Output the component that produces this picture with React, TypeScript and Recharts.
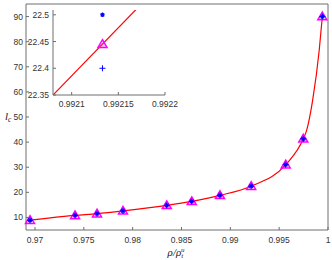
import React from 'react';
import { ComposedChart, Line, Scatter, XAxis, YAxis, Label } from 'recharts';

// density ratio rho / rho_t^u at each computed point
const rho = [0.96949, 0.9741, 0.97635, 0.97901, 0.98349, 0.98605, 0.98894, 0.992133, 0.99567, 0.99747, 0.99942];
// l_c for the three methods (blue *, magenta triangle, blue +)
const lcStar = [8.9, 10.8, 11.5, 12.6, 14.8, 16.4, 18.8, 22.5, 31.0, 41.3, 90.0];
const lcTri = [8.9, 10.8, 11.5, 12.6, 14.8, 16.4, 18.8, 22.445, 31.0, 41.3, 90.0];
const lcPlus = [8.9, 10.8, 11.5, 12.6, 14.8, 16.4, 18.8, 22.4, 31.0, 41.3, 90.0];

// red curve
const fitRho = [0.96949, 0.9741, 0.97635, 0.97901, 0.98349, 0.98605, 0.98894, 0.992133, 0.99567, 0.99747, 0.99782, 0.99843, 0.9991, 0.99942];
const fitLc = [8.9, 10.8, 11.5, 12.6, 14.8, 16.4, 18.8, 22.445, 31.0, 41.3, 44.8, 56.7, 76.6, 90.0];

// inset: red curve end points inside the zoom window
const insetFitRho = [0.99208, 0.992169];
const insetFitLc = [22.35, 22.51];

const xTicks = [0.97, 0.975, 0.98, 0.985, 0.99, 0.995, 1];
const yTicks = [10, 20, 30, 40, 50, 60, 70, 80, 90];
const insetXTicks = [0.9921, 0.99215, 0.9922];
const insetYTicks = [22.35, 22.4, 22.45, 22.5];

const AXIS = '#6e6e6e';
const TEXT = '#333';
const FONT = '"Liberation Sans", Arial, sans-serif';
const TICK_LEN = 3;

const zip = (xs: number[], ys: number[]) => xs.map((x, i) => ({ x, y: ys[i] }));

const starData = zip(rho, lcStar);
const triData = zip(rho, lcTri);
const plusData = zip(rho, lcPlus);
const fitData = zip(fitRho, fitLc);
const insetFitData = zip(insetFitRho, insetFitLc);

// ─── markers ────────────────────────────────────────────────────────────────
const Triangle = ({ cx, cy }: any) => (
  <path
    d={`M${cx},${cy - 4.5} L${cx + 4.5},${cy + 3.2} L${cx - 4.5},${cy + 3.2} Z`}
    fill="rgba(255,0,255,0.15)"
    stroke="#ff00ff"
    strokeWidth={1.5}
  />
);
const Plus = ({ cx, cy }: any) => (
  <path d={`M${cx - 3},${cy} H${cx + 3} M${cx},${cy - 3} V${cy + 3}`} stroke="#0000ff" strokeWidth={1} />
);
const Star = ({ cx, cy }: any) => (
  <g stroke="#0000ff" strokeWidth={1.1}>
    <path d={`M${cx - 2.3},${cy} H${cx + 2.3} M${cx},${cy - 2.3} V${cy + 2.3}`} />
    <path d={`M${cx - 1.7},${cy - 1.7} L${cx + 1.7},${cy + 1.7} M${cx - 1.7},${cy + 1.7} L${cx + 1.7},${cy - 1.7}`} />
    <circle cx={cx} cy={cy} r={1.3} fill="#0000ff" stroke="none" />
  </g>
);

// ─── ticks (inward marks, labels outside) ───────────────────────────────────
const makeLeftTick = (margin: number) => ({ x, y, payload }: any) => (
  <g>
    <line x1={x + margin} x2={x + margin + TICK_LEN} y1={y} y2={y} stroke={AXIS} />
    <text x={x} y={y} dy={3} textAnchor="end" fontSize={8.5} fill={TEXT} fontFamily={FONT}>
      {payload.value}
    </text>
  </g>
);
const makeBottomTick = (margin: number) => ({ x, y, payload }: any) => (
  <g>
    <line x1={x} x2={x} y1={y - margin} y2={y - margin - TICK_LEN} stroke={AXIS} />
    <text x={x} y={y} dy={7} textAnchor="middle" fontSize={8.5} fill={TEXT} fontFamily={FONT}>
      {payload.value}
    </text>
  </g>
);
const TopTick = ({ x, y }: any) => <line x1={x} x2={x} y1={y} y2={y + TICK_LEN} stroke={AXIS} />;
const RightTick = ({ x, y }: any) => <line x1={x} x2={x - TICK_LEN} y1={y} y2={y} stroke={AXIS} />;

const XTitle = () => (
  <text x={176} y={256} textAnchor="middle" fontSize={11} fontStyle="italic" fontFamily='"Liberation Serif", serif' fill="#222">
    ρ/ρ
    <tspan fontSize={7} dy={2}>t</tspan>
    <tspan fontSize={7} dx={-2.3} dy={-6.5}>u</tspan>
  </text>
);
const YTitle = () => (
  <text x={5} y={120} fontSize={11} fontStyle="italic" fontFamily='"Liberation Serif", serif' fill="#222">
    l<tspan fontSize={7.5} dy={2}>c</tspan>
  </text>
);

function Inset() {
  return (
    <ComposedChart width={160} height={110} margin={{ top: 4, right: 15, bottom: 0, left: 0 }}>
      <XAxis
        xAxisId="b"
        type="number"
        dataKey="x"
        domain={[0.99208, 0.9922]}
        ticks={insetXTicks}
        allowDataOverflow
        height={21}
        tickSize={0}
        tickMargin={5}
        tickLine={false}
        stroke={AXIS}
        tick={makeBottomTick(5)}
        interval={0}
      />
      <XAxis
        xAxisId="t"
        orientation="top"
        type="number"
        dataKey="x"
        domain={[0.99208, 0.9922]}
        ticks={insetXTicks}
        allowDataOverflow
        height={0}
        tickSize={0}
        tickMargin={0}
        tickLine={false}
        stroke={AXIS}
        tick={TopTick}
        interval={0}
      />
      <YAxis
        yAxisId="l"
        type="number"
        domain={[22.35, 22.509]}
        ticks={insetYTicks}
        allowDataOverflow
        width={33}
        tickSize={0}
        tickMargin={4}
        tickLine={false}
        stroke={AXIS}
        tick={makeLeftTick(4)}
        interval={0}
      />
      <YAxis
        yAxisId="r"
        orientation="right"
        type="number"
        domain={[22.35, 22.509]}
        ticks={insetYTicks}
        allowDataOverflow
        width={0}
        tickSize={0}
        tickMargin={0}
        tickLine={false}
        stroke={AXIS}
        tick={RightTick}
        interval={0}
      />
      <Line xAxisId="b" yAxisId="l" data={insetFitData} dataKey="y" stroke="#ff0000" strokeWidth={1.2} dot={false} isAnimationActive={false} />
      <Scatter xAxisId="b" yAxisId="l" data={[triData[7]]} dataKey="y" shape={Triangle} isAnimationActive={false} />
      <Scatter xAxisId="b" yAxisId="l" data={[plusData[7]]} dataKey="y" shape={Plus} isAnimationActive={false} />
      <Scatter xAxisId="b" yAxisId="l" data={[starData[7]]} dataKey="y" shape={Star} isAnimationActive={false} />
    </ComposedChart>
  );
}

export default function App() {
  return (
    <div style={{ position: 'absolute', left: 0, top: 0, width: 332, height: 260, background: '#fff' }}>
      <ComposedChart width={332} height={260} margin={{ top: 0, right: 0, bottom: 0, left: 0 }}>
        <XAxis
          xAxisId="b"
          type="number"
          dataKey="x"
          domain={[0.96908, 1]}
          ticks={xTicks}
          height={30}
          tickSize={0}
          tickMargin={6}
          tickLine={false}
          stroke={AXIS}
          tick={makeBottomTick(6)}
          interval={0}
        >
          <Label content={XTitle} />
        </XAxis>
        <XAxis
          xAxisId="t"
          orientation="top"
          type="number"
          dataKey="x"
          domain={[0.96908, 1]}
          ticks={xTicks}
          height={4}
          tickSize={0}
          tickMargin={0}
          tickLine={false}
          stroke={AXIS}
          tick={TopTick}
          interval={0}
        />
        <YAxis
          yAxisId="l"
          type="number"
          domain={[5, 95]}
          ticks={yTicks}
          width={26}
          tickSize={0}
          tickMargin={3}
          tickLine={false}
          stroke={AXIS}
          tick={makeLeftTick(3)}
          interval={0}
        >
          <Label content={YTitle} />
        </YAxis>
        <YAxis
          yAxisId="r"
          orientation="right"
          type="number"
          domain={[5, 95]}
          ticks={yTicks}
          width={4}
          tickSize={0}
          tickMargin={0}
          tickLine={false}
          stroke={AXIS}
          tick={RightTick}
          interval={0}
        />
        <Line xAxisId="b" yAxisId="l" data={fitData} dataKey="y" type="monotone" stroke="#ff0000" strokeWidth={1.2} dot={false} isAnimationActive={false} />
        <Scatter xAxisId="b" yAxisId="l" data={triData} dataKey="y" shape={Triangle} isAnimationActive={false} />
        <Scatter xAxisId="b" yAxisId="l" data={plusData} dataKey="y" shape={Plus} isAnimationActive={false} />
        <Scatter xAxisId="b" yAxisId="l" data={starData} dataKey="y" shape={Star} isAnimationActive={false} />
      </ComposedChart>
      <div style={{ position: 'absolute', left: 20, top: 6 }}>
        <Inset />
      </div>
    </div>
  );
}
